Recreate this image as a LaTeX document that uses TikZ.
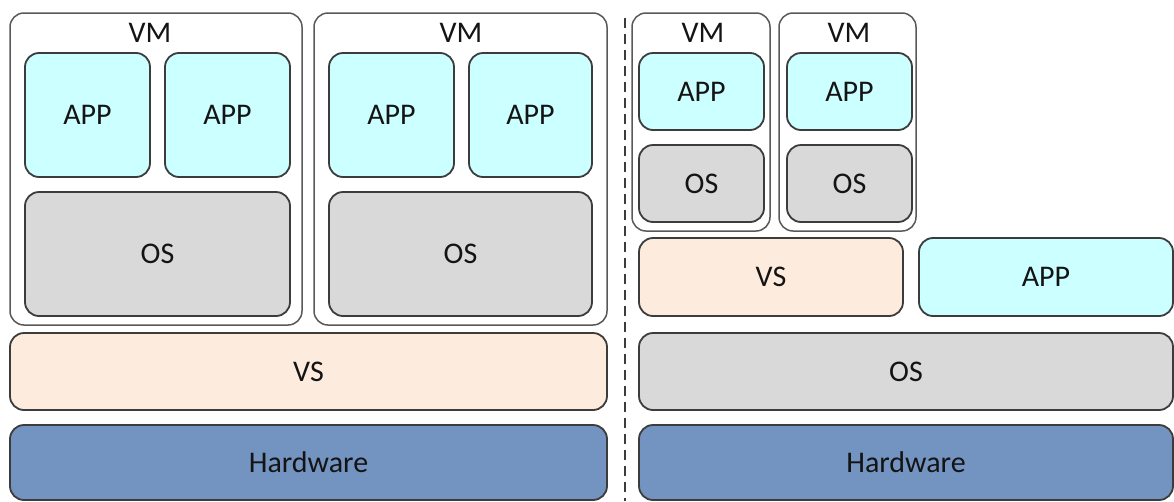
\documentclass[tikz,border=0pt]{standalone}
\usepackage{fontspec}
\setmainfont{Carlito}
\usetikzlibrary{fit}
\definecolor{appc}{RGB}{204,255,255}
\definecolor{osc}{RGB}{217,217,217}
\definecolor{vsc}{RGB}{253,236,222}
\definecolor{hwc}{RGB}{115,148,192}
\definecolor{edge}{RGB}{60,60,60}
\definecolor{txt}{RGB}{20,20,20}
\tikzset{
  box/.style={draw=edge, line width=1.8pt, rounded corners=14pt, inner sep=0pt,
    font=\fontsize{30}{34}\selectfont, text=txt},
  appbox/.style={box, fill=appc},
  osbox/.style={box, fill=osc},
  vsbox/.style={box, fill=vsc},
  hwbox/.style={box, fill=hwc},
  vmbox/.style={draw=edge!85, line width=1.5pt, rounded corners=14pt, inner sep=0pt, fill=white},
  vmlabel/.style={font=\fontsize{30}{34}\selectfont, text=txt, inner sep=0pt},
}
\begin{document}
\begin{tikzpicture}[x=1pt,y=-1pt]
\useasboundingbox (0,0) rectangle (1174,501);
\clip (0,0) rectangle (1174,501);
% left stack
\node[vmbox, fit={(10,13)(302,325)}] (vm1) {};
\node[vmbox, fit={(314,13)(607,325)}] (vm2) {};
\node[vmlabel] (vm1l) at (150,33) {VM};
\node[vmlabel] (vm2l) at (461,33) {VM};
\node[appbox, fit={(25,53)(150,177)}] (a1) {};
\node[box, draw=none] at (a1.center) {APP};
\node[appbox, fit={(165,53)(290,177)}] (a2) {};
\node[box, draw=none] at (a2.center) {APP};
\node[appbox, fit={(329,53)(454,177)}] (a3) {};
\node[box, draw=none] at (a3.center) {APP};
\node[appbox, fit={(469,53)(592,177)}] (a4) {};
\node[box, draw=none] at (a4.center) {APP};
\node[osbox, fit={(25,192)(290,316)}] (o1) {};
\node[box, draw=none] at (o1.center) {OS};
\node[osbox, fit={(329,192)(592,316)}] (o2) {};
\node[box, draw=none] at (o2.center) {OS};
\node[vsbox, fit={(10,333)(607,410)}] (vs1) {};
\node[box, draw=none] at (vs1.center) {VS};
\node[hwbox, fit={(10,425)(607,500)}] (hw1) {};
\node[box, draw=none] at (hw1.center) {Hardware};
% divider
\coordinate (d1) at (625,18);
\coordinate (d2) at (625,501);
\draw[edge, line width=1.8pt, dash pattern=on 10pt off 6pt] (d1) -- (d2);
% right stack
\node[vmbox, fit={(632,13)(770,231)}] (vm3) {};
\node[vmbox, fit={(779,13)(916,231)}] (vm4) {};
\node[vmlabel] (vm3l) at (703,33) {VM};
\node[vmlabel] (vm4l) at (849,33) {VM};
\node[appbox, fit={(639,53)(764,130)}] (a5) {};
\node[box, draw=none] at (a5.center) {APP};
\node[appbox, fit={(787,53)(912,130)}] (a6) {};
\node[box, draw=none] at (a6.center) {APP};
\node[osbox, fit={(639,145)(764,222)}] (o5) {};
\node[box, draw=none] at (o5.center) {OS};
\node[osbox, fit={(787,145)(912,222)}] (o6) {};
\node[box, draw=none] at (o6.center) {OS};
\node[vsbox, fit={(639,238)(903,316)}] (vs2) {};
\node[box, draw=none] at (vs2.center) {VS};
\node[appbox, fit={(919,238)(1173,316)}] (a7) {};
\node[box, draw=none] at (a7.center) {APP};
\node[osbox, fit={(639,333)(1173,410)}] (o7) {};
\node[box, draw=none] at (o7.center) {OS};
\node[hwbox, fit={(639,425)(1173,500)}] (hw2) {};
\node[box, draw=none] at (hw2.center) {Hardware};
\end{tikzpicture}
\end{document}
